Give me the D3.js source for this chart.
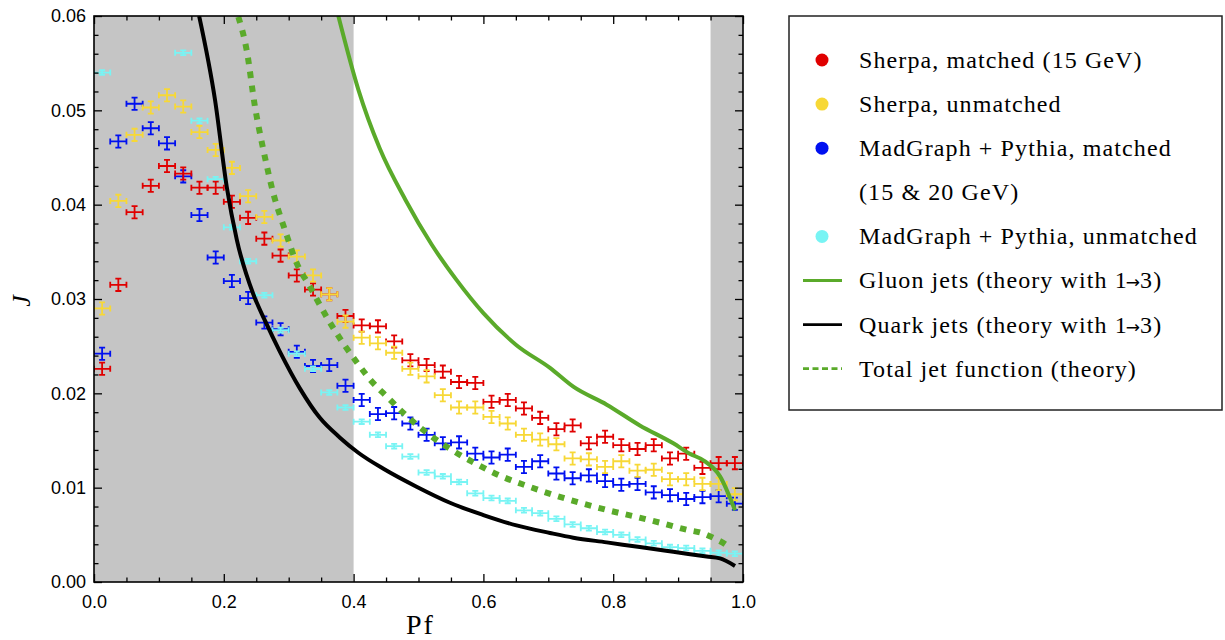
<!DOCTYPE html>
<html>
<head>
<meta charset="utf-8">
<script src="https://cdn.jsdelivr.net/npm/d3@7"></script>
<style>
  body { margin: 0; background: #fff; }
  text { fill: #000; }
</style>
</head>
<body>
<svg id="chart" width="1225" height="640"></svg>
<script>
// ---- data -------------------------------------------------------------
const binCenters = [0.0125, 0.0375, 0.0625, 0.0875, 0.1125, 0.1375, 0.1625, 0.1875, 0.2125, 0.2375,
                    0.2625, 0.2875, 0.3125, 0.3375, 0.3625, 0.3875, 0.4125, 0.4375, 0.4625, 0.4875,
                    0.5125, 0.5375, 0.5625, 0.5875, 0.6125, 0.6375, 0.6625, 0.6875, 0.7125, 0.7375,
                    0.7625, 0.7875, 0.8125, 0.8375, 0.8625, 0.8875, 0.9125, 0.9375, 0.9625, 0.9875];
const binHalfWidth = 0.0125;

const sherpaMatched = [0.0226, 0.0315, 0.0392, 0.0420, 0.0441, 0.0433, 0.0418, 0.0418, 0.0403, 0.0386,
                       0.0364, 0.0346, 0.0325, 0.0310, 0.0305, 0.0282, 0.0272, 0.0271, 0.0255, 0.0235,
                       0.0230, 0.0223, 0.0212, 0.0211, 0.0191, 0.0193, 0.0184, 0.0174, 0.0162, 0.0166,
                       0.0147, 0.0154, 0.0145, 0.0141, 0.0145, 0.0131, 0.0136, 0.0121, 0.0126, 0.0126];
const sherpaUnmatched = [0.0290, 0.0404, 0.0474, 0.0503, 0.0516, 0.0504, 0.0477, 0.0458, 0.0439, 0.0409,
                         0.0387, 0.0362, 0.0345, 0.0325, 0.0305, 0.0276, 0.0259, 0.0253, 0.0243, 0.0226,
                         0.0218, 0.0198, 0.0185, 0.0185, 0.0175, 0.0168, 0.0156, 0.0151, 0.0146, 0.0131,
                         0.0130, 0.0122, 0.0128, 0.0118, 0.0119, 0.0109, 0.0109, 0.0104, 0.0104, 0.0093];
const madgraphMatched = [0.0242, 0.0467, 0.0507, 0.0481, 0.0465, 0.0430, 0.0389, 0.0344, 0.0319, 0.0301,
                         0.0275, 0.0268, 0.0244, 0.0229, 0.0230, 0.0208, 0.0193, 0.0178, 0.0179, 0.0168,
                         0.0156, 0.0147, 0.0148, 0.0136, 0.0132, 0.0135, 0.0122, 0.0128, 0.0115, 0.0110,
                         0.0113, 0.0107, 0.0103, 0.0104, 0.0095, 0.0092, 0.0088, 0.0090, 0.0091, 0.0083];
// bins 2-5 lie above the plotted range
const madgraphUnmatched = [0.0540, null, null, null, null, 0.0561, 0.0489, 0.0427, 0.0376, 0.0340,
                           0.0304, 0.0267, 0.0242, 0.0226, 0.0201, 0.0185, 0.0170, 0.0156, 0.0144, 0.0133,
                           0.0116, 0.0112, 0.0106, 0.0094, 0.0089, 0.0086, 0.0076, 0.0073, 0.0067, 0.0061,
                           0.0057, 0.0053, 0.0050, 0.0045, 0.0041, 0.0037, 0.0036, 0.0033, 0.0031, 0.0030];
const seriesErrors = [0.00065, 0.00065, 0.00065, 0.00025];

const gluonX = [0.3765, 0.4073, 0.440, 0.480, 0.520, 0.5588, 0.600, 0.651, 0.7026,
                0.7385, 0.790, 0.841, 0.8926, 0.918, 0.9389, 0.9646, 0.9877];
const gluonY = [0.0600, 0.0522, 0.0460, 0.0405, 0.0358, 0.0320, 0.0285, 0.0251, 0.0227,
                0.0207, 0.0188, 0.0166, 0.0147, 0.0136, 0.0129, 0.0112, 0.0076];
const quarkX = [0.162, 0.1865, 0.2045, 0.220, 0.2455, 0.2635, 0.2866, 0.3174, 0.348, 0.379, 0.4073, 0.446,
                0.497, 0.5485, 0.600, 0.651, 0.7026, 0.7385, 0.790, 0.841, 0.8926, 0.944, 0.9646, 0.9877];
const quarkY = [0.0600, 0.0511, 0.0419, 0.0363, 0.0305, 0.0277, 0.0244, 0.0205, 0.0174, 0.0153, 0.0137, 0.0120,
                0.0101, 0.0084, 0.0071, 0.0060, 0.0052, 0.0047, 0.0042, 0.0037, 0.0032, 0.0027, 0.0025, 0.0017];
const totalX = [0.2224, 0.2352, 0.248, 0.261, 0.2763, 0.2943, 0.3123, 0.3328, 0.343, 0.361, 0.384, 0.407,
                0.425, 0.4535, 0.4818, 0.515, 0.5536, 0.5896, 0.628, 0.6667, 0.705, 0.749, 0.7925, 0.836,
                0.877, 0.9157, 0.9363, 0.9568, 0.9747, 0.980];
const totalY = [0.0599, 0.0564, 0.0504, 0.0458, 0.0412, 0.0373, 0.0338, 0.0313, 0.0300, 0.0278, 0.0253, 0.0231,
                0.0215, 0.0195, 0.0176, 0.0157, 0.0139, 0.0125, 0.0112, 0.0102, 0.0093, 0.0084, 0.0076, 0.0069,
                0.0062, 0.0055, 0.0052, 0.0046, 0.0039, 0.0036];

const shadedBands = [[0.0, 0.4], [0.95, 1.0]];
const xTickValues = [0.0, 0.2, 0.4, 0.6, 0.8, 1.0];
const yTickValues = [0.00, 0.01, 0.02, 0.03, 0.04, 0.05, 0.06];

const legendLabels = ["Sherpa, matched (15 GeV)", "Sherpa, unmatched", "MadGraph + Pythia, matched",
                      "(15 & 20 GeV)", "MadGraph + Pythia, unmatched", "Gluon jets (theory with 1\u21923)",
                      "Quark jets (theory with 1\u21923)", "Total jet function (theory)"];

// ---- layout -----------------------------------------------------------
const svg = d3.select("#chart");
const plot = { left: 94, right: 743, top: 16, bottom: 582 };
const x = d3.scaleLinear().domain([0, 1]).range([plot.left, plot.right]);
const y = d3.scaleLinear().domain([0, 0.06]).range([plot.bottom, plot.top]);

const colors = { red: "#e00000", yellow: "#f7d836", blue: "#0010f0", cyan: "#78f4f4",
                 green: "#5aaa2a", black: "#000" };
const serif = "'Liberation Serif', 'Times New Roman', serif";

svg.append("defs").append("clipPath").attr("id", "plotClip")
  .append("rect")
  .attr("x", plot.left).attr("y", plot.top)
  .attr("width", plot.right - plot.left).attr("height", plot.bottom - plot.top);

// shaded regions
svg.append("g").selectAll("rect").data(shadedBands).join("rect")
  .attr("x", d => x(d[0])).attr("width", d => x(d[1]) - x(d[0]))
  .attr("y", plot.top).attr("height", plot.bottom - plot.top)
  .attr("fill", "#c5c5c5");

// error-bar crosses
const dataLayer = svg.append("g").attr("clip-path", "url(#plotClip)");
const series = [
  { values: madgraphMatched, color: colors.blue, err: seriesErrors[2] },
  { values: madgraphUnmatched, color: colors.cyan, err: seriesErrors[3] },
  { values: sherpaMatched, color: colors.red, err: seriesErrors[0] },
  { values: sherpaUnmatched, color: colors.yellow, err: seriesErrors[1] }
];
const cap = 3;
series.forEach(s => {
  const pts = binCenters.map((c, i) => ({ c, v: s.values[i] })).filter(d => d.v != null);
  const g = dataLayer.append("g").attr("stroke", s.color).attr("stroke-width", 1.8).attr("fill", "none");
  g.selectAll("path").data(pts).join("path").attr("d", d => {
    const x0 = x(d.c - binHalfWidth), x1 = x(d.c + binHalfWidth), xc = x(d.c);
    const yc = y(d.v), y0 = y(d.v - s.err), y1 = y(d.v + s.err);
    return `M${x0},${yc}H${x1}` +
           `M${x0},${yc - cap}V${yc + cap}M${x1},${yc - cap}V${yc + cap}` +
           `M${xc},${y0}V${y1}` +
           `M${xc - cap},${y0}H${xc + cap}M${xc - cap},${y1}H${xc + cap}`;
  });
});

// theory curves
const line = d3.line().x(d => x(d[0])).y(d => y(d[1])).curve(d3.curveMonotoneX);
const curveLayer = svg.append("g").attr("clip-path", "url(#plotClip)").attr("fill", "none");
curveLayer.append("path").datum(d3.zip(quarkX, quarkY))
  .attr("d", line).attr("stroke", colors.black).attr("stroke-width", 4);
curveLayer.append("path").datum(d3.zip(gluonX, gluonY))
  .attr("d", line).attr("stroke", colors.green).attr("stroke-width", 4);
curveLayer.append("path").datum(d3.zip(totalX, totalY))
  .attr("d", line).attr("stroke", colors.green).attr("stroke-width", 6)
  .attr("stroke-dasharray", "6.5,7.5");

// ---- axes -------------------------------------------------------------
const majorLen = 8, minorLen = 4.5;
const xMinor = d3.range(0, 21).map(i => i * 0.05).filter(v => !xTickValues.some(t => Math.abs(t - v) < 1e-9));
const yMinor = d3.range(0, 31).map(i => i * 0.002).filter(v => !yTickValues.some(t => Math.abs(t - v) < 1e-9));

function styleAxis(g) {
  g.select(".domain").remove();
  g.selectAll(".tick line").attr("stroke", "#000").attr("stroke-width", 1.3);
  g.selectAll("text").attr("font-family", "'Liberation Sans', Arial, sans-serif").attr("font-size", 18);
}

svg.append("g").attr("transform", `translate(0,${plot.bottom})`)
  .call(d3.axisBottom(x).tickValues(xTickValues).tickSize(-majorLen).tickPadding(13).tickFormat(d3.format(".1f")))
  .call(styleAxis);
svg.append("g").attr("transform", `translate(0,${plot.bottom})`)
  .call(d3.axisBottom(x).tickValues(xMinor).tickSize(-minorLen).tickFormat(""))
  .call(styleAxis);
svg.append("g").attr("transform", `translate(0,${plot.top})`)
  .call(d3.axisTop(x).tickValues(xTickValues).tickSize(-majorLen).tickFormat(""))
  .call(styleAxis);
svg.append("g").attr("transform", `translate(0,${plot.top})`)
  .call(d3.axisTop(x).tickValues(xMinor).tickSize(-minorLen).tickFormat(""))
  .call(styleAxis);

svg.append("g").attr("transform", `translate(${plot.left},0)`)
  .call(d3.axisLeft(y).tickValues(yTickValues).tickSize(-majorLen).tickPadding(8).tickFormat(d3.format(".2f")))
  .call(styleAxis);
svg.append("g").attr("transform", `translate(${plot.left},0)`)
  .call(d3.axisLeft(y).tickValues(yMinor).tickSize(-minorLen).tickFormat(""))
  .call(styleAxis);
svg.append("g").attr("transform", `translate(${plot.right},0)`)
  .call(d3.axisRight(y).tickValues(yTickValues).tickSize(-majorLen).tickFormat(""))
  .call(styleAxis);
svg.append("g").attr("transform", `translate(${plot.right},0)`)
  .call(d3.axisRight(y).tickValues(yMinor).tickSize(-minorLen).tickFormat(""))
  .call(styleAxis);

// frame
svg.append("rect")
  .attr("x", plot.left).attr("y", plot.top)
  .attr("width", plot.right - plot.left).attr("height", plot.bottom - plot.top)
  .attr("fill", "none").attr("stroke", "#000").attr("stroke-width", 1.6);

// axis titles
svg.append("text")
  .attr("x", (plot.left + plot.right) / 2 + 2).attr("y", 634)
  .attr("text-anchor", "middle")
  .attr("font-family", serif)
  .attr("font-size", 28).attr("letter-spacing", 2)
  .text("Pf");
svg.append("text")
  .attr("transform", "translate(30,301) rotate(-90)")
  .attr("text-anchor", "middle")
  .attr("font-family", serif)
  .attr("font-style", "italic").attr("font-size", 26)
  .text("J");

// ---- legend -----------------------------------------------------------
const legend = svg.append("g");
legend.append("rect")
  .attr("x", 789).attr("y", 16).attr("width", 433).attr("height", 394)
  .attr("fill", "#fff").attr("stroke", "#222").attr("stroke-width", 1.5);

const legendSymbols = [
  { type: "dot", color: colors.red }, { type: "dot", color: colors.yellow },
  { type: "dot", color: colors.blue }, { type: "none" },
  { type: "dot", color: colors.cyan }, { type: "line", color: colors.green },
  { type: "line", color: colors.black }, { type: "dash", color: colors.green }
];
const rowY = i => 60 + i * 44.1;
const rows = legend.selectAll("g.row").data(legendLabels).join("g")
  .attr("class", "row").attr("transform", (d, i) => `translate(0,${rowY(i)})`);
rows.each(function (d, i) {
  const g = d3.select(this);
  const s = legendSymbols[i];
  if (s.type === "dot") {
    g.append("circle").attr("cx", 822).attr("cy", 0).attr("r", 6.5).attr("fill", s.color);
  } else if (s.type === "line" || s.type === "dash") {
    g.append("line").attr("x1", 803).attr("x2", 842).attr("y1", 0).attr("y2", 0)
      .attr("stroke", s.color).attr("stroke-width", 2.8)
      .attr("stroke-dasharray", s.type === "dash" ? "6,3.5" : null);
  }
  const t = g.append("text").attr("x", 859).attr("y", 0).attr("dy", "0.33em")
    .attr("font-family", serif)
    .attr("font-size", 24).attr("letter-spacing", 1.1);
  // the arrow glyph is set tighter and smaller than the surrounding text
  const parts = d.split("\u2192");
  if (parts.length === 2) {
    t.append("tspan").text(parts[0]);
    t.append("tspan").attr("font-family", "'DejaVu Sans', sans-serif").attr("font-size", 17)
      .attr("letter-spacing", 0).attr("dx", -2).text("\u2192");
    t.append("tspan").attr("dx", 0).text(parts[1]);
  } else {
    t.text(d);
  }
});
</script>
</body>
</html>
